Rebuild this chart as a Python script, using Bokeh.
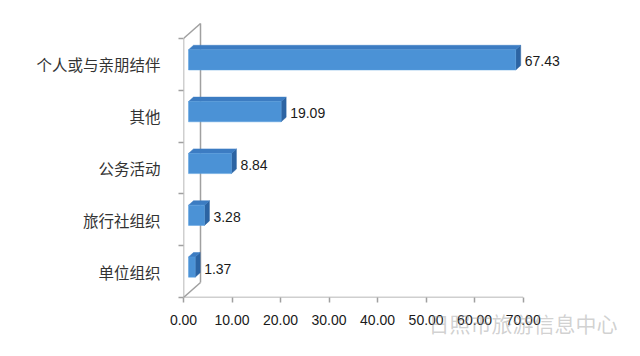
from bokeh.plotting import figure
from bokeh.models import Range1d, FixedTicker, NumeralTickFormatter, ColumnDataSource
from bokeh.embed import file_html
from bokeh.resources import INLINE
from bokeh.core.properties import value

# ---- data (bottom to top) ----
categories = ["单位组织", "旅行社组织", "公务活动", "其他", "个人或与亲朋结伴"]
values = [1.37, 3.28, 8.84, 19.09, 67.43]
x_ticks = [0, 10, 20, 30, 40, 50, 60, 70]
watermark = "日照市旅游信息中心"

# ---- layout constants ----
W, H = 624, 340
BL, BR, BT, BB = 183, 14, 18, 43
X_END, Y_START, Y_END = 88.0, -0.5, 4.886
UX = (X_END - 0) / (W - BL - BR)        # data units per px (x)
UY = (Y_END - Y_START) / (H - BT - BB)  # data units per px (y)

FRONT_DX, FRONT_DY = 5.0, 4.5   # bar front face offset from front plane (px)
DEPTH_DX, DEPTH_DY = 5.0, 4.5   # bar depth (px)
WALL_DX, WALL_DY = 17.0, 15.0   # wall depth (px)
BAR_H = 0.39                    # bar thickness (data units)

FRONT_C = "#4b92d6"
TOP_C = "#3c7cc2"
SIDE_C = "#2c64a3"
AXIS_C = "#a0a0a0"

p = figure(width=W, height=H, output_backend="svg", toolbar_location=None,
           x_range=Range1d(0, X_END), y_range=Range1d(Y_START, Y_END),
           min_border_left=BL, min_border_right=BR, min_border_top=BT, min_border_bottom=BB)
p.outline_line_color = None
p.grid.visible = False
p.background_fill_color = "white"
p.border_fill_color = "white"

# ---- walls / axis lines ----
n = len(categories)
top_cat = n - 0.5
wx, wy = WALL_DX * UX, WALL_DY * UY
seg = dict(
    x0=[0, wx, 0, 0, 0],
    y0=[Y_START, Y_START + wy, top_cat, Y_START, Y_START],
    x1=[0, wx, wx, wx, x_ticks[-1]],
    y1=[top_cat, top_cat + wy, top_cat + wy, Y_START + wy, Y_START],
)
p.segment(x0="x0", y0="y0", x1="x1", y1="y1", source=ColumnDataSource(seg),
          line_color=AXIS_C, line_width=1.5)

# ---- 3D bars ----
fx, fy = FRONT_DX * UX, FRONT_DY * UY
dx, dy = DEPTH_DX * UX, DEPTH_DY * UY
ys = list(range(n))
left = [fx] * n
right = [v + fx for v in values]
bottom = [y + fy - BAR_H / 2 for y in ys]
top = [y + fy + BAR_H / 2 for y in ys]

top_xs = [[l, r, r + dx, l + dx] for l, r in zip(left, right)]
top_ys = [[t, t, t + dy, t + dy] for t in top]
side_xs = [[r, r + dx, r + dx, r] for r in right]
side_ys = [[b, b + dy, t + dy, t] for b, t in zip(bottom, top)]

p.patches(xs=side_xs, ys=side_ys, fill_color=SIDE_C, line_color=SIDE_C, line_width=0.5)
p.patches(xs=top_xs, ys=top_ys, fill_color=TOP_C, line_color=TOP_C, line_width=0.5)
p.quad(left=left, right=right, bottom=bottom, top=top,
       fill_color=FRONT_C, line_color="#5aa0e0", line_width=0.5)

# ---- value labels ----
lab = ColumnDataSource(dict(
    x=[r + dx + 4 * UX for r in right],
    y=[y + fy - 1.5 * UY for y in ys],
    t=[f"{v:.2f}" for v in values],
))
p.text(x="x", y="y", text="t", source=lab, text_font=value("Liberation Sans"),
       text_font_size="14px", text_color="#1a1a1a", text_baseline="middle", text_align="left")

# ---- axes ----
xa = p.xaxis[0]
xa.ticker = FixedTicker(ticks=x_ticks)
xa.formatter = NumeralTickFormatter(format="0.00")
xa.axis_line_color = None
xa.major_tick_line_color = AXIS_C
xa.major_tick_line_width = 1.5
xa.major_tick_out = 5
xa.major_tick_in = 0
xa.minor_tick_line_color = None
xa.major_label_standoff = 12
xa.major_label_text_font = "Liberation Sans"
xa.major_label_text_font_size = "14px"
xa.major_label_text_color = "#1a1a1a"
# watermark drawn as the (faint) axis label, overlapping the tick labels;
# leading ideographic spaces shift the centred label towards the right
xa.axis_label = "\u3000" * 12 + watermark
xa.axis_label_align = "center"
xa.axis_label_standoff = -20
xa.axis_label_text_font = "Noto Sans CJK SC"
xa.axis_label_text_font_size = "21px"
xa.axis_label_text_font_style = "normal"
xa.axis_label_text_color = "#999999"
xa.axis_label_text_alpha = 0.45

ya = p.yaxis[0]
ya.ticker = FixedTicker(ticks=ys, minor_ticks=[i - 0.5 for i in range(n + 1)])
ya.major_label_overrides = {i: c for i, c in enumerate(categories)}
ya.axis_line_color = None
ya.major_tick_line_color = None
ya.major_tick_out = 0
ya.major_tick_in = 0
ya.minor_tick_line_color = AXIS_C
ya.minor_tick_line_width = 1.5
ya.minor_tick_out = 5
ya.minor_tick_in = 0
ya.major_label_standoff = 18
ya.major_label_text_font = "Noto Sans CJK SC"
ya.major_label_text_font_size = "15.5px"
ya.major_label_text_color = "#333333"

open("out.html", "w").write(file_html(p, INLINE))
